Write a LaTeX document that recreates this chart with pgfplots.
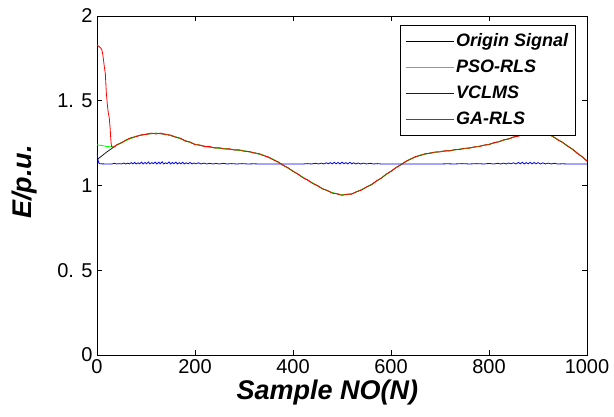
\documentclass[border=0pt]{standalone}
\usepackage{fontspec}
\setmainfont{Liberation Sans}
\usepackage{pgfplots}
\pgfplotsset{compat=1.18}

\begin{document}
\begin{tikzpicture}
\begin{axis}[
at={(0,0)},anchor=south west,
scale only axis,width=490pt,height=339pt,
xmin=0,xmax=1000,ymin=0,ymax=2,
xtick={0,200,400,600,800,1000},
xticklabels={0,200,400,600,800,1000},
ytick={0,0.5,1,1.5,2},
yticklabels={0,0. 5,1,1. 5,2},
tick align=inside,major tick length=5pt,
tick style={black,line width=0.5pt},
axis line style={line width=0.6pt},
tick label style={font=\fontsize{20}{24}\selectfont},
xticklabel style={yshift=-1pt},
yticklabel style={xshift=-1pt},
xlabel={Sample NO(N)},ylabel={E/p.u.},
label style={font=\fontsize{27}{30}\selectfont\bfseries\itshape},
xlabel style={at={(axis description cs:0.47,-0.11)},anchor=center},
ylabel style={at={(axis description cs:-0.147,0.51)},anchor=center},
legend style={at={(0.976,0.973)},anchor=north east,
  font=\fontsize{18}{21}\selectfont\bfseries\itshape,
  nodes={inner sep=2pt,text height=16pt,text depth=6pt},
  inner xsep=5pt,inner ysep=3pt},
legend cell align=left,
legend image code/.code={\draw[#1,line width=1pt] (0pt,0pt) -- (48pt,0pt);},
]
\addplot[black,line width=0.7pt] coordinates {
(0,1.152)(20,1.198)(40,1.238)(60,1.268)(80,1.290)(100,1.303)(120,1.308)
(140,1.302)(160,1.287)(180,1.265)(200,1.243)(220,1.231)(240,1.223)(260,1.217)
(280,1.211)(300,1.204)(320,1.194)(340,1.178)(360,1.153)(380,1.120)(400,1.085)
(420,1.048)(440,1.014)(460,0.982)(480,0.957)(500,0.944)(520,0.951)(540,0.975)
(560,1.006)(580,1.044)(600,1.085)(620,1.123)(640,1.157)(660,1.179)(680,1.192)
(700,1.200)(720,1.206)(740,1.214)(760,1.222)(780,1.231)(800,1.243)(820,1.259)
(840,1.276)(860,1.293)(880,1.307)(900,1.314)(920,1.305)(940,1.272)(960,1.235)
(980,1.192)(1000,1.145)};
\addlegendentry{Origin Signal}
\addplot[green,line width=0.8pt] coordinates {
(0,1.240)(10,1.236)(20,1.230)(30,1.228)(37,1.233)(40,1.238)(60,1.266)(80,1.292)
(100,1.302)(120,1.309)(140,1.303)(160,1.288)(180,1.264)(200,1.244)(220,1.232)
(240,1.222)(260,1.218)(280,1.211)(300,1.205)(320,1.193)(340,1.179)(360,1.154)
(380,1.121)(400,1.084)(420,1.049)(440,1.015)(460,0.981)(480,0.958)(500,0.945)
(520,0.951)(540,0.976)(560,1.005)(580,1.045)(600,1.084)(620,1.124)(640,1.156)
(660,1.180)(680,1.191)(700,1.201)(720,1.205)(740,1.215)(760,1.221)(780,1.232)
(800,1.242)(820,1.260)(840,1.275)(860,1.294)(880,1.306)(900,1.315)(920,1.304)
(940,1.273)(960,1.234)(980,1.193)(1000,1.146)};
\addlegendentry{PSO-RLS}
\addplot[blue,line width=0.8pt] coordinates {
(0,1.190)(1,1.175)(2,1.155)(3,1.138)(5,1.128)(20,1.127)(30,1.127)(36,1.131)
(40,1.127)(46,1.129)(50,1.127)(55,1.133)(58,1.127)(63,1.132)(66,1.127)(70,1.135)
(73,1.128)(77,1.136)(80,1.127)(84,1.134)(87,1.128)(91,1.138)(94,1.127)(98,1.136)
(101,1.128)(105,1.139)(108,1.127)(112,1.135)(115,1.129)(119,1.138)(122,1.127)
(126,1.137)(129,1.128)(133,1.140)(136,1.127)(140,1.134)(143,1.128)(147,1.139)
(150,1.127)(154,1.136)(157,1.128)(161,1.138)(164,1.127)(168,1.135)(171,1.128)
(175,1.137)(178,1.127)(182,1.134)(186,1.128)(190,1.136)(194,1.127)(198,1.133)
(202,1.128)(207,1.134)(212,1.127)(218,1.132)(224,1.127)(230,1.131)(236,1.127)
(243,1.130)(250,1.127)(258,1.131)(265,1.127)(275,1.129)(285,1.127)(296,1.129)
(308,1.127)(320,1.128)(330,1.127)(420,1.127)(430,1.129)(438,1.127)(446,1.131)
(452,1.127)(458,1.132)(463,1.127)(468,1.134)(472,1.128)(476,1.135)(480,1.127)
(484,1.137)(488,1.128)(492,1.136)(496,1.127)(500,1.138)(504,1.128)(508,1.135)
(512,1.127)(516,1.137)(520,1.128)(524,1.134)(528,1.127)(533,1.133)(538,1.127)
(544,1.132)(550,1.127)(557,1.131)(564,1.127)(572,1.129)(580,1.127)(700,1.127)
(715,1.128)(730,1.127)(745,1.129)(760,1.127)(775,1.129)(790,1.127)(800,1.130)
(810,1.127)(818,1.131)(824,1.127)(830,1.132)(835,1.127)(840,1.133)(845,1.128)
(850,1.134)(855,1.127)(860,1.136)(864,1.128)(868,1.137)(872,1.127)(876,1.135)
(880,1.128)(884,1.137)(888,1.127)(892,1.136)(896,1.128)(900,1.135)(905,1.127)
(910,1.134)(915,1.127)(921,1.132)(927,1.127)(933,1.131)(940,1.127)(950,1.128)
(960,1.127)(1000,1.127)};
\addlegendentry{VCLMS}
\addplot[red,line width=0.8pt] coordinates {
(0,1.830)(4,1.820)(8,1.810)(10,1.800)(12,1.770)(15,1.700)(17,1.660)(19,1.550)
(21,1.480)(23,1.430)(25,1.400)(27,1.330)(28,1.280)(29,1.245)(30,1.228)(34,1.226)
(37,1.232)(40,1.240)(50,1.252)(60,1.270)(70,1.283)(80,1.288)(90,1.299)(100,1.301)
(110,1.309)(120,1.304)(130,1.309)(140,1.300)(150,1.298)(160,1.285)(170,1.280)
(180,1.262)(190,1.257)(200,1.241)(210,1.239)(220,1.229)(230,1.230)(240,1.221)
(250,1.223)(260,1.215)(270,1.217)(280,1.209)(290,1.211)(300,1.202)(310,1.201)
(320,1.192)(330,1.189)(340,1.176)(350,1.168)(360,1.151)(370,1.139)(380,1.118)
(390,1.105)(400,1.083)(410,1.069)(420,1.046)(430,1.033)(440,1.012)(450,1.000)
(460,0.980)(470,0.971)(480,0.955)(490,0.951)(500,0.942)(510,0.948)(520,0.949)
(530,0.964)(540,0.973)(550,0.992)(560,1.004)(570,1.027)(580,1.042)(590,1.067)
(600,1.083)(610,1.106)(620,1.121)(630,1.143)(640,1.155)(650,1.171)(660,1.177)
(670,1.188)(680,1.190)(690,1.198)(700,1.198)(710,1.205)(720,1.204)(730,1.212)
(740,1.212)(750,1.220)(760,1.220)(770,1.228)(780,1.229)(790,1.239)(800,1.241)
(810,1.253)(820,1.257)(830,1.270)(840,1.274)(850,1.287)(860,1.291)(870,1.303)
(880,1.305)(890,1.313)(900,1.311)(910,1.313)(920,1.302)(930,1.292)(940,1.269)
(950,1.256)(960,1.232)(970,1.216)(980,1.189)(990,1.171)(1000,1.143)};
\addlegendentry{GA-RLS}
\end{axis}
\pgfresetboundingbox
\path (current axis.south west) ++(-97pt,-62pt) rectangle ++(614pt,417pt);
\end{tikzpicture}
\end{document}
